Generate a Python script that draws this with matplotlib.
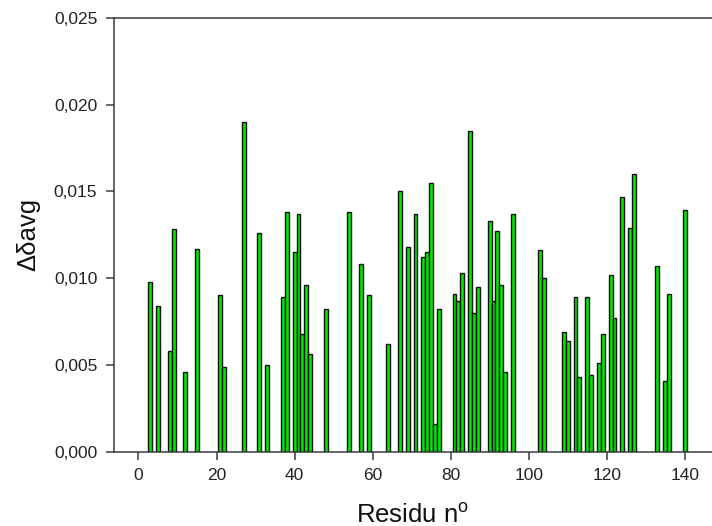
import matplotlib
matplotlib.use("Agg")
import matplotlib.pyplot as plt
from matplotlib.ticker import FuncFormatter

# Residue numbers and average chemical shift perturbation
residues = [3, 5, 8, 9, 12, 15, 21, 22, 27, 31, 33, 37, 38, 40, 41, 42, 43, 44,
            48, 54, 57, 59, 64, 67, 69, 71, 73, 74, 75, 76, 77, 81, 82, 83, 85,
            86, 87, 90, 91, 92, 93, 94, 96, 103, 104, 109, 110, 112, 113, 115,
            116, 118, 119, 121, 122, 124, 126, 127, 133, 135, 136, 140]
delta_avg = [0.0098, 0.0084, 0.0058, 0.0128, 0.0046, 0.0117, 0.0090, 0.0049,
             0.0190, 0.0126, 0.0050, 0.0089, 0.0138, 0.0115, 0.0137, 0.0068,
             0.0096, 0.0056, 0.0082, 0.0138, 0.0108, 0.0090, 0.0062, 0.0150,
             0.0118, 0.0137, 0.0112, 0.0115, 0.0155, 0.0016, 0.0082, 0.0091,
             0.0087, 0.0103, 0.0185, 0.0080, 0.0095, 0.0133, 0.0087, 0.0127,
             0.0096, 0.0046, 0.0137, 0.0116, 0.0100, 0.0069, 0.0064, 0.0089,
             0.0043, 0.0089, 0.0044, 0.0051, 0.0068, 0.0102, 0.0077, 0.0147,
             0.0129, 0.0160, 0.0107, 0.0041, 0.0091, 0.0139]

x_ticks = [0, 20, 40, 60, 80, 100, 120, 140]
y_ticks = [0.000, 0.005, 0.010, 0.015, 0.020, 0.025]

plt.rcParams["font.family"] = ["Liberation Sans", "DejaVu Sans"]
plt.rcParams["mathtext.fontset"] = "custom"
plt.rcParams["mathtext.rm"] = "Liberation Sans"

fig = plt.figure(figsize=(7.12, 5.26), dpi=100)
ax = fig.add_axes([0.160, 0.1413, 0.840, 0.8250])

ax.bar(residues, delta_avg, width=1.0, color="#00ea00",
       edgecolor="#111111", linewidth=1.0, zorder=2)

ax.set_xlim(-6.3, 147)
ax.set_ylim(0, 0.025)
ax.set_xticks(x_ticks)
ax.set_yticks(y_ticks)
ax.yaxis.set_major_formatter(FuncFormatter(lambda v, p: f"{v:.3f}".replace(".", ",")))

spine_col = "#3a3a3a"
for side in ("left", "bottom", "top"):
    ax.spines[side].set_color(spine_col)
    ax.spines[side].set_linewidth(1.1)
ax.spines["right"].set_visible(False)

ax.tick_params(axis="both", direction="out", length=6, width=1.1,
               color=spine_col, labelsize=12.5, labelcolor="#222222", pad=6)
ax.tick_params(top=False, right=False)

ax.set_xlabel("Residu n$^{\\mathregular{o}}$", fontsize=18.5, color="#111111",
              labelpad=14)
ax.set_ylabel("Δδavg", fontsize=18.5, color="#111111", labelpad=10)

fig.savefig("out.png", dpi=100)
